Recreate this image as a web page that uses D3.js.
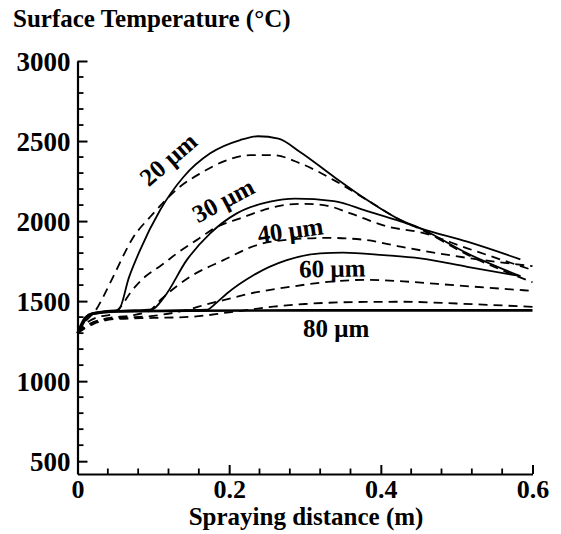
<!DOCTYPE html>
<html><head><meta charset="utf-8">
<script src="https://cdn.jsdelivr.net/npm/d3@7"></script>
<style>html,body{margin:0;padding:0;background:#fff;}svg{display:block;}</style>
</head><body>
<svg id="chart" width="561" height="534"></svg>
<script>
// ---- data ----
const xTicks = [0, 0.2, 0.4, 0.6];
const yTicks = [500, 1000, 1500, 2000, 2500, 3000];
const sizeLabels = ["20 μm", "30 μm", "40 μm", "60 μm", "80 μm"];

// solid curves [distance (m), temperature (°C)]
const solid20 = [[0,1300],[0.005,1350],[0.012,1405],[0.02,1425],[0.035,1437],[0.054,1445],[0.068,1650],[0.0825,1819],[0.109,2069],[0.14,2277],[0.175,2423],[0.2145,2506],[0.238,2530],[0.265,2515],[0.294,2430],[0.338,2277],[0.382,2131],[0.426,2006],[0.452,1955],[0.514,1798],[0.584,1656]];
const solid30 = [[0,1300],[0.006,1345],[0.015,1410],[0.03,1430],[0.06,1440],[0.098,1448],[0.115,1530],[0.144,1756],[0.175,1923],[0.21,2048],[0.254,2121],[0.287,2140],[0.338,2125],[0.382,2062],[0.426,1998],[0.452,1955],[0.514,1871],[0.584,1761]];
const solid60 = [[0,1300],[0.008,1370],[0.02,1418],[0.05,1434],[0.1,1440],[0.1705,1446],[0.182,1485],[0.197,1548],[0.232,1662],[0.276,1756],[0.32,1798],[0.35,1803],[0.404,1787],[0.452,1767],[0.514,1714],[0.584,1656]];
const solid80 = [[0,1300],[0.01,1395],[0.02,1422],[0.05,1435],[0.15,1440],[0.3,1442],[0.6,1442]];

// dashed curves
const dashed20 = [[0,1300],[0.008,1360],[0.018,1410],[0.025,1450],[0.034,1527],[0.047,1652],[0.074,1902],[0.096,2027],[0.135,2214],[0.162,2298],[0.192,2371],[0.228,2412],[0.258,2412],[0.294,2360],[0.338,2256],[0.382,2131],[0.426,2006],[0.452,1950],[0.514,1790],[0.6,1618]];
const dashed30 = [[0,1300],[0.01,1355],[0.025,1398],[0.045,1418],[0.058,1470],[0.069,1548],[0.089,1652],[0.111,1725],[0.131,1798],[0.157,1881],[0.184,1964],[0.2145,2017],[0.245,2069],[0.272,2100],[0.3,2108],[0.33,2095],[0.36,2048],[0.41,1964],[0.452,1930],[0.514,1830],[0.6,1694]];
const dashed40 = [[0,1300],[0.015,1355],[0.04,1393],[0.07,1410],[0.095,1440],[0.11,1510],[0.1485,1652],[0.1925,1756],[0.2366,1850],[0.28,1885],[0.33,1895],[0.38,1882],[0.426,1840],[0.514,1770],[0.6,1718]];
const dashed60 = [[0,1300],[0.02,1365],[0.05,1392],[0.1,1408],[0.14,1440],[0.175,1486],[0.1925,1506],[0.228,1548],[0.28,1589],[0.33,1620],[0.38,1633],[0.43,1623],[0.5,1598],[0.6,1564]];
const dashed80 = [[0,1300],[0.02,1355],[0.05,1388],[0.1,1395],[0.15,1402],[0.2,1430],[0.258,1465],[0.3,1482],[0.38,1495],[0.43,1496],[0.5,1485],[0.6,1464]];

const solidSeries = [solid20, solid30, solid60, solid80];
const dashedSeries = [dashed20, dashed30, dashed40, dashed60, dashed80];

// ---- drawing ----
const svg = d3.select("#chart");
const FONT = "'Liberation Serif','Times New Roman',serif";
const x = d3.scaleLinear().domain([0, 0.6]).range([77.5, 532.5]);
const y = d3.scaleLinear().domain([420, 3000]).range([474, 61]);

const line = d3.line().x(d => x(d[0])).y(d => y(d[1])).curve(d3.curveMonotoneX);
const plot = svg.append("g");
dashedSeries.forEach(s => plot.append("path").attr("d", line(s)).attr("fill","none")
  .attr("stroke","#000").attr("stroke-width",1.8).attr("stroke-dasharray","9,6"));
solidSeries.forEach((s,i) => plot.append("path").attr("d", line(s)).attr("fill","none")
  .attr("stroke","#000").attr("stroke-width", i === 3 ? 2.6 : 1.8));

// axes (ticks inside)
const xAxis = svg.append("g").attr("transform", `translate(0,${y(420)})`)
  .call(d3.axisBottom(x).tickValues(xTicks).tickSizeInner(-9).tickSizeOuter(0).tickFormat(d => d === 0 ? "0" : d3.format(".1f")(d)));
const xMinor = d3.range(0, 0.6001, 0.04).filter(v => !xTicks.some(t => Math.abs(t - v) < 1e-6));
xAxis.selectAll(".minor").data(xMinor).enter().append("line").attr("class","minor")
  .attr("x1", d => x(d)).attr("x2", d => x(d)).attr("y1", 0).attr("y2", -5.5)
  .attr("stroke","#000").attr("stroke-width",1.8);

const yAxis = svg.append("g").attr("transform", `translate(${x(0)},0)`)
  .call(d3.axisLeft(y).tickValues(yTicks).tickSizeInner(-10).tickSizeOuter(0).tickFormat(d3.format("d")));
const yMinor = d3.range(600, 3000, 100).filter(v => v % 500 !== 0);
yAxis.selectAll(".minor").data(yMinor).enter().append("line").attr("class","minor")
  .attr("x1", 0).attr("x2", 6).attr("y1", d => y(d)).attr("y2", d => y(d))
  .attr("stroke","#000").attr("stroke-width",1.8);

[xAxis, yAxis].forEach(a => {
  a.select(".domain").attr("stroke","#000").attr("stroke-width",2.2);
  a.selectAll(".tick line").attr("stroke","#000").attr("stroke-width",2);
  a.selectAll(".tick text").attr("font-family", FONT).attr("font-weight","bold")
    .attr("font-size","27px").attr("fill","#000");
});
xAxis.selectAll(".tick text").attr("y", 23.5).attr("dy", 0).attr("font-size","26px");
yAxis.selectAll(".tick text").attr("x", -7).attr("dy", "0.34em");

// titles
svg.append("text").attr("x", 13).attr("y", 27).attr("font-family", FONT).attr("font-weight","bold")
  .attr("font-size","25px").text("Surface Temperature (°C)");
svg.append("text").attr("x", 306).attr("y", 525).attr("text-anchor","middle").attr("font-family", FONT)
  .attr("font-weight","bold").attr("font-size","25px").text("Spraying distance (m)");

// curve labels: [data x, data y, rotation]
const labelPlace = [[0.1195, 2387, -41], [0.192, 2131, -28], [0.2805, 1944, -8], [0.336, 1706, -1], [0.341, 1331, 0]];
sizeLabels.forEach((t, i) => {
  const p = labelPlace[i];
  svg.append("text").attr("transform", `translate(${x(p[0])},${y(p[1])}) rotate(${p[2]})`)
    .attr("text-anchor","middle").attr("dy","0.35em").attr("font-family", FONT)
    .attr("font-weight","bold").attr("font-size","25px").text(t);
});
</script>
</body></html>
